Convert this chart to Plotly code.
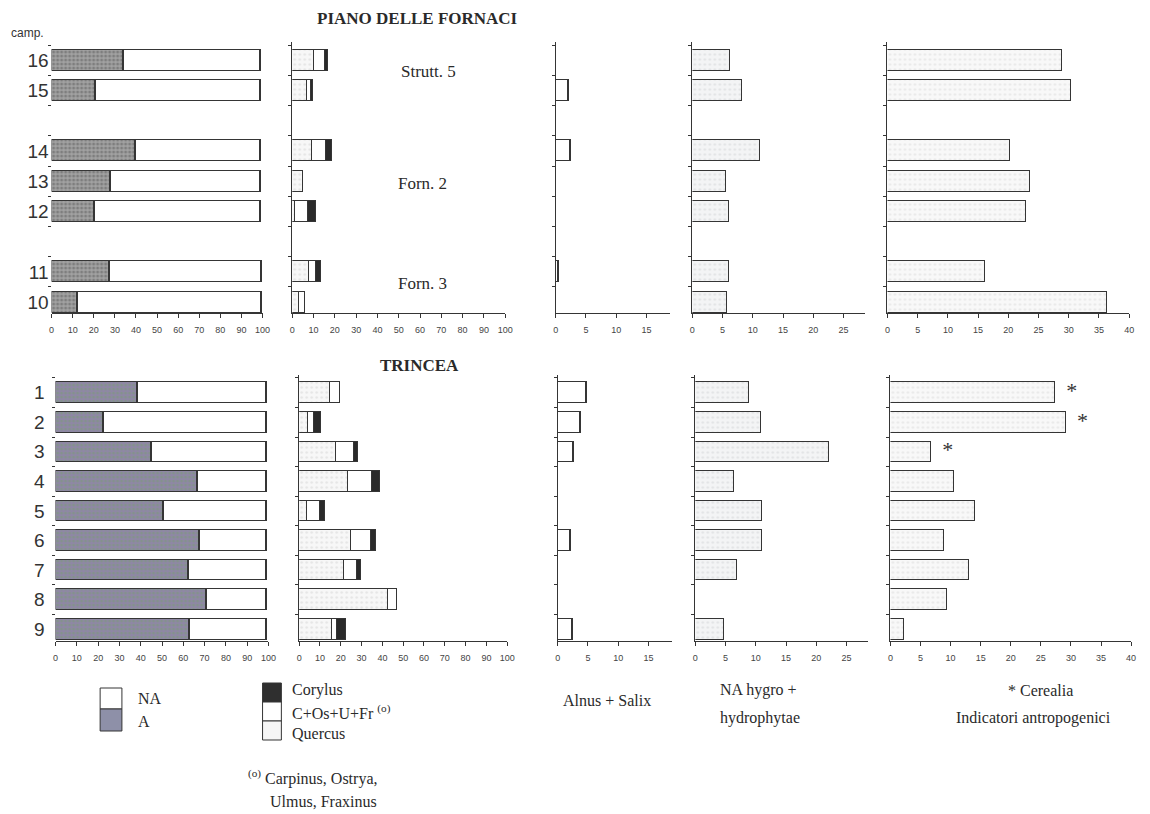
import plotly.graph_objects as go

OFF = 8  # browser body margin
W, H = 1150 - OFF, 814 - OFF

# ---------------- data ----------------
top_groups = [["16", "15"], ["14", "13", "12"], ["11", "10"]]
bottom_groups = [["1", "2", "3", "4", "5", "6", "7", "8", "9"]]

# PIANO DELLE FORNACI (order 16,15,14,13,12,11,10)
top_A = [34, 21, 40, 28, 20.5, 27.5, 12.5]
top_NA = [65, 78, 59, 71, 78.5, 72, 87]
top_quercus = [10.5, 7, 9.5, 5.3, 1.5, 8, 3.3]
top_cos = [5, 1.7, 6.5, 0, 6, 3.5, 2.8]
top_corylus = [1.5, 1.3, 3, 0, 4, 2, 0]
top_alnus = [0, 2.2, 2.5, 0, 0, 0.5, 0]
top_hygro = [6.3, 8.3, 11.2, 5.7, 6.1, 6.1, 5.8]
top_antro = [29, 30.5, 20.3, 23.6, 23, 16.3, 36.4]
top_cerealia = [0, 0, 0, 0, 0, 0, 0]

# TRINCEA (order 1..9)
bot_A = [38.5, 22.5, 45, 66.7, 50.5, 67.5, 62.3, 70.8, 62.7]
bot_NA = [60.5, 76.5, 54, 32.3, 48.5, 31.5, 36.7, 28.2, 36.3]
bot_quercus = [15, 4.5, 18, 23.7, 4, 25, 21.6, 42.6, 15.7]
bot_cos = [4.5, 2.5, 8.5, 11.4, 6, 9.4, 6.3, 4.4, 2.5]
bot_corylus = [0, 3.5, 2, 3.7, 2.5, 2.6, 2, 0, 4.3]
bot_alnus = [4.8, 3.8, 2.7, 0, 0, 2.1, 0, 0, 2.5]
bot_hygro = [9, 10.9, 22.2, 6.4, 11.1, 11, 6.9, 0, 4.8]
bot_antro = [27.4, 29.2, 6.8, 10.6, 14.2, 9, 13.2, 9.5, 2.4]
bot_cerealia = [1, 1, 1, 0, 0, 0, 0, 0, 0]

x_ticks = [list(range(0, 101, 10)), list(range(0, 101, 10)),
           [0, 5, 10, 15], [0, 5, 10, 15, 20, 25], list(range(0, 41, 5))]
x_ranges = [[0, 100], [0, 100], [0, 18.8], [0, 28.5], [0, 40]]

# ---------------- helpers ----------------
def positions(groups):
    pos, labels, p = [], [], 0
    for g in groups:
        for s in g:
            pos.append(p)
            labels.append(s)
            p += 1
        p += 1
    return pos, labels


def nz(vals):
    return [v if v else None for v in vals]


def px(x):
    return (x - OFF) / W


def py(y):
    return 1 - (y - OFF) / H


OUT = "#353535"
SERIF = "Liberation Serif"
SANS = "Liberation Sans"

fig = go.Figure()
layout = dict(
    width=W, height=H, margin=dict(l=0, r=0, t=0, b=0), autosize=False,
    paper_bgcolor="white", plot_bgcolor="rgba(0,0,0,0)",
    barmode="stack", showlegend=False, bargap=0,
)

top_x_px = [(49, 262), (292, 507), (558, 673), (696, 870), (893, 1137)]
bot_x_px = [(53, 268), (299, 509), (560, 675), (699, 873), (896, 1139)]
rows = [
    dict(groups=top_groups, xpx=top_x_px, ypx=(42, 313), yr=[8.36, -0.6],
         A=top_A, NA=top_NA, Q=top_quercus, C=top_cos, Co=top_corylus,
         al=top_alnus, hy=top_hygro, an=top_antro, ce=top_cerealia,
         acol=("#a2a2a2", "#5a5a5a"), standoff=2),
    dict(groups=bottom_groups, xpx=bot_x_px, ypx=(375, 641), yr=[8.4, -0.6],
         A=bot_A, NA=bot_NA, Q=bot_quercus, C=bot_cos, Co=bot_corylus,
         al=bot_alnus, hy=bot_hygro, an=bot_antro, ce=bot_cerealia,
         acol=("#8f86a6", "#7a9e74"), standoff=10),
]

BW = 0.7
line = dict(color=OUT, width=1.4)

def stipple(bg, fg, size=4, sol=0.35):
    return dict(shape=".", bgcolor=bg, fgcolor=fg, size=size, solidity=sol)

ax = 0
for r, row in enumerate(rows):
    pos, labels = positions(row["groups"])
    for k in range(5):
        ax += 1
        xa = "x" if ax == 1 else f"x{ax}"
        ya = "y" if ax == 1 else f"y{ax}"
        xk = "xaxis" if ax == 1 else f"xaxis{ax}"
        yk = "yaxis" if ax == 1 else f"yaxis{ax}"
        x0, x1 = row["xpx"][k]
        y0, y1 = row["ypx"]
        layout[xk] = dict(
            domain=[px(x0), px(x1)], range=x_ranges[k], anchor=ya,
            tickmode="array", tickvals=x_ticks[k],
            ticks="outside", ticklen=4, tickcolor=OUT, tickwidth=1,
            ticklabelstandoff=4,
            tickfont=dict(family=SANS, size=9, color="#444"),
            showline=True, linecolor=OUT, linewidth=1.2,
            showgrid=False, zeroline=False, fixedrange=True,
        )
        ydict = dict(
            domain=[py(y1), py(y0)], range=row["yr"], anchor=xa,
            tickmode="array", tickvals=pos,
            ticks="",
            minor=dict(ticks="outside", ticklen=3, tick0=-0.5, dtick=1,
                       tickcolor=OUT, tickwidth=1),
            showline=k != 0, linecolor=OUT, linewidth=1.2,
            showgrid=False, zeroline=False, fixedrange=True,
        )
        if k == 0:
            ydict.update(ticktext=labels, ticklabelstandoff=row["standoff"],
                         tickfont=dict(family=SANS, size=19, color="#333"))
        else:
            ydict.update(showticklabels=False)
        layout[yk] = ydict
        if k == 0:
            fig.add_trace(go.Bar(x=nz(row["A"]), y=pos, orientation="h", width=BW,
                                 xaxis=xa, yaxis=ya, name="A",
                                 marker=dict(color=row["acol"][0], line=line,
                                             pattern=stipple(row["acol"][0], row["acol"][1], 4, 0.45))))
            fig.add_trace(go.Bar(x=nz(row["NA"]), y=pos, orientation="h", width=BW,
                                 xaxis=xa, yaxis=ya, name="NA",
                                 marker=dict(color="white", line=line)))
        elif k == 1:
            fig.add_trace(go.Bar(x=nz(row["Q"]), y=pos, orientation="h", width=BW,
                                 xaxis=xa, yaxis=ya, name="Quercus",
                                 marker=dict(color="#f6f6f6", line=line,
                                             pattern=stipple("#f7f7f7", "#d4d4d4", 5, 0.2))))
            fig.add_trace(go.Bar(x=nz(row["C"]), y=pos, orientation="h", width=BW,
                                 xaxis=xa, yaxis=ya, name="C+Os+U+Fr",
                                 marker=dict(color="white", line=line)))
            fig.add_trace(go.Bar(x=nz(row["Co"]), y=pos, orientation="h", width=BW,
                                 xaxis=xa, yaxis=ya, name="Corylus",
                                 marker=dict(color="#2a2a2a", line=line)))
        elif k == 2:
            fig.add_trace(go.Bar(x=nz(row["al"]), y=pos, orientation="h", width=BW,
                                 xaxis=xa, yaxis=ya, name="Alnus + Salix",
                                 marker=dict(color="white", line=line)))
        elif k == 3:
            fig.add_trace(go.Bar(x=nz(row["hy"]), y=pos, orientation="h", width=BW,
                                 xaxis=xa, yaxis=ya, name="NA hygro",
                                 marker=dict(color="#f2f3f4", line=line,
                                             pattern=stipple("#f3f4f5", "#cfd2d6", 5, 0.2))))
        else:
            fig.add_trace(go.Bar(x=nz(row["an"]), y=pos, orientation="h", width=BW,
                                 xaxis=xa, yaxis=ya, name="Indicatori antropogenici",
                                 marker=dict(color="#f7f7f7", line=line,
                                             pattern=stipple("#f8f8f8", "#d8d8d8", 5, 0.2))))
            cx = [v for v, c in zip(row["an"], row["ce"]) if c]
            cy = [p for p, c in zip(pos, row["ce"]) if c]
            if cx:
                fig.add_trace(go.Scatter(x=cx, y=cy, mode="text", text=["  *"] * len(cx),
                                         textposition="middle right", xaxis=xa, yaxis=ya,
                                         textfont=dict(family=SERIF, size=22, color="#333333"),
                                         cliponaxis=False, hoverinfo="skip"))

# ---------------- annotations ----------------
ann = []

def text(x, y, s, size=16, family=SERIF, anchor="center", color="#2a2a2a", bold=False):
    if bold:
        s = f"<b>{s}</b>"
    ann.append(dict(x=px(x), y=py(y), xref="paper", yref="paper", text=s,
                    showarrow=False, xanchor=anchor, yanchor="middle",
                    font=dict(family=family, size=size, color=color)))

text(418, 18, "PIANO DELLE FORNACI", 17, bold=True)
text(420, 365, "TRINCEA", 17, bold=True)
text(6, 33, "camp.", 12, SANS, "left", "#333")
text(430, 71, "Strutt. 5", 17)
text(423, 183, "Forn. 2", 17)
text(423, 283, "Forn. 3", 17)

text(134, 698, "NA", 16, anchor="left")
text(134, 721, "A", 16, anchor="left")
text(290, 690, "Corylus", 16, anchor="left")
text(290, 712, "C+Os+U+Fr <sup>(o)</sup>", 16, anchor="left")
text(290, 733, "Quercus", 16, anchor="left")
text(563, 700, "Alnus + Salix", 16, anchor="left")
text(722, 690, "NA hygro +", 16, anchor="left")
text(722, 718, "hydrophytae", 16, anchor="left")
text(1048, 690, "* Cerealia", 16)
text(1040, 718, "Indicatori antropogenici", 16)
text(245, 777, "<sup>(o)</sup> Carpinus, Ostrya,", 16, anchor="left")
text(268, 801, "Ulmus, Fraxinus", 16, anchor="left")

layout["annotations"] = ann

# legend swatches
shapes = []

def box(x0, y0, x1, y1, fill):
    shapes.append(dict(type="rect", xref="paper", yref="paper",
                       x0=px(x0), x1=px(x1), y0=py(y1), y1=py(y0),
                       fillcolor=fill, line=dict(color=OUT, width=1)))

box(98, 688, 120, 709, "white")
box(98, 709, 120, 731, "#8e90a8")
box(262, 683, 281, 702, "#2f2f2f")
box(262, 702, 281, 721, "white")
box(262, 721, 281, 740, "#f6f6f6")
layout["shapes"] = shapes

fig.update_layout(**layout)
fig.write_html("out.html")
